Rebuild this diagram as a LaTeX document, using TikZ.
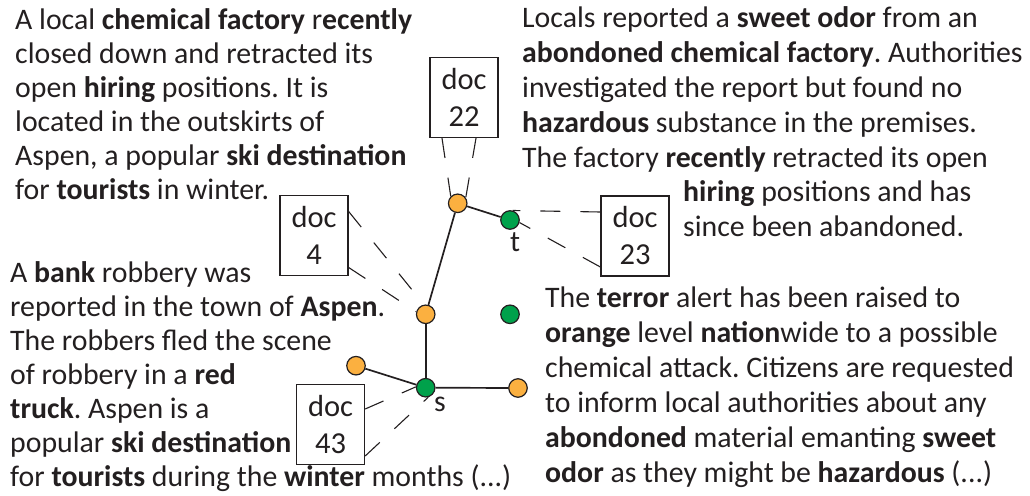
\documentclass[tikz,border=0pt]{standalone}
\usepackage{fontspec}
\setmainfont{Carlito}
\frenchspacing
\definecolor{ink}{HTML}{231F20}
\definecolor{nodeorange}{HTML}{FBB040}
\definecolor{nodegreen}{HTML}{00A14B}
\tikzset{
  txt/.style={anchor=base west, inner sep=0pt, align=left, text=ink,
    font=\fontsize{29.8}{34}\selectfont},
  txtr/.style={txt, font=\fontsize{29.8}{35}\selectfont},
  docbox/.style={draw=ink, line width=1.3pt, minimum width=68pt, minimum height=80pt,
    inner sep=0pt, align=center, text=ink, font=\fontsize{30.5}{37}\selectfont},
  vert/.style={circle, draw=ink, line width=1.2pt, minimum size=18.5pt, inner sep=0pt},
  orangev/.style={vert, fill=nodeorange},
  greenv/.style={vert, fill=nodegreen},
  edge/.style={draw=ink, line width=1.7pt},
  link/.style={draw=ink, line width=1.1pt, dash pattern=on 20pt off 20pt},
  lbl/.style={inner sep=0pt, text=ink, font=\fontsize{29.8}{34}\selectfont}
}
\begin{document}
\begin{tikzpicture}[x=1pt,y=-1pt]
\useasboundingbox (0,0) rectangle (1030,495);

% document texts (anchored at the baseline of their last line)
\node[txt] (textA) at (15,199) {A local \textbf{chemical factory} r\textbf{ecently}\\
closed down and retracted its\\
open \textbf{hiring} positions. It is\\
located in the outskirts of\\
Aspen, a popular \textbf{ski destination}\\
for \textbf{tourists} in winter.};

\node[txtr] (textB) at (522,167) {Locals reported a \textbf{sweet odor} from an\\
\textbf{abondoned chemical factory}. Authorities\\
investigated the report but found no\\
\textbf{hazardous} substance in the premises.\\
The factory \textbf{recently} retracted its open};
\node[txtr] (textB2) at (683,236) {\textbf{hiring} positions and has\\
since been abandoned.};

\node[txt] (textC) at (10,486) {A \textbf{bank} robbery was\\
reported in the town of \textbf{Aspen}.\\
The robbers fled the scene\\
of robbery in a \textbf{red}\\
\textbf{truck}. Aspen is a\\
popular \textbf{ski destination}\\
for \textbf{tourists} during the \textbf{winter} months (...)};

\node[txtr] (textD) at (545,482) {The \textbf{terror} alert has been raised to\\
\textbf{orange} level \textbf{nation}wide to a possible\\
chemical attack. Citizens are requested\\
to inform local authorities about any\\
\textbf{abondoned} material emanting \textbf{sweet}\\
\textbf{odor} as they might be \textbf{hazardous} (...)};

% document boxes
\node[docbox] (d22) at (464,97.5) {doc\\22};
\node[docbox] (d4) at (314,235.5) {doc\\4};
\node[docbox] (d23) at (635,236) {doc\\23};
\node[docbox] (d43) at (330.5,424.5) {doc\\43};

% graph vertices
\node[orangev] (o1) at (457.7,203.3) {};
\node[greenv] (t) at (510,220) {};
\node[orangev] (o2) at (425.7,314.3) {};
\node[greenv] (g2) at (510,314.3) {};
\node[orangev] (o3) at (356,365.7) {};
\node[greenv] (s) at (425.7,387.7) {};
\node[orangev] (o4) at (518,388) {};

\node[lbl] (tlab) at (515,242) {t};
\node[lbl] (slab) at (440,404) {s};

% graph edges
\draw[edge] (o1) -- (t);
\draw[edge] (o1) -- (o2);
\draw[edge] (o2) -- (s);
\draw[edge] (o3) -- (s);
\draw[edge] (s) -- (o4);

% document-to-vertex links
\draw[link] ([xshift=-22pt]d22.south) -- (o1.135);
\draw[link] ([xshift=12pt]d22.south) -- (o1.35);
\draw[link] ([yshift=24pt]d4.east) -- (o2.100);
\draw[link] ([yshift=-32pt]d4.east) -- (o2.165);
\draw[link] ([yshift=24pt]d23.west) -- (t.75);
\draw[link] ([yshift=-31pt]d23.west) -- (t.-15);
\draw[link] ([yshift=15.5pt]d43.east) -- (s.175);
\draw[link] ([yshift=-31.5pt]d43.east) -- (s.-75);
\end{tikzpicture}
\end{document}
